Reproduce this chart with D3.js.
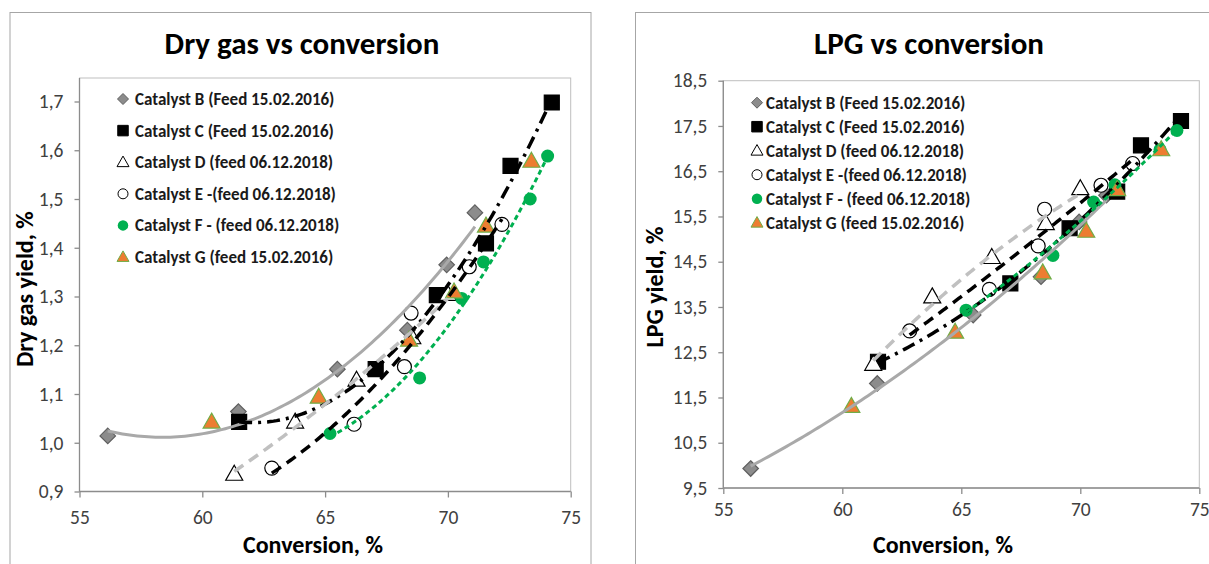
<!DOCTYPE html>
<html>
<head>
<meta charset="utf-8">
<script src="https://cdn.jsdelivr.net/npm/d3@7"></script>
<style>
  body { margin: 0; background: #fff; }
  svg { display: block; }
  text { font-family: Carlito, Lato, "Open Sans", sans-serif; }
</style>
</head>
<body>
<svg id="chart" width="1209" height="564"></svg>
<script>
// Conversion (%) of each test run, per catalyst
const conversionB = [56.15, 61.47, 65.5, 68.35, 69.95, 71.1];
const conversionC = [61.5, 67.06, 69.55, 71.55, 72.55, 74.23];
const conversionD = [61.3, 63.78, 66.28, 68.55, 70.0];
const conversionE = [62.83, 66.18, 68.23, 68.5, 70.87, 72.2];
const conversionF = [65.2, 68.85, 70.56, 71.45, 73.35, 74.06];
const conversionG = [60.38, 64.74, 68.42, 70.25, 71.55, 73.4];

// Dry gas yield (%)
const dryGasB = [1.014, 1.064, 1.151, 1.231, 1.365, 1.472];
const dryGasC = [1.043, 1.151, 1.303, 1.409, 1.568, 1.698];
const dryGasD = [0.936, 1.043, 1.129, 1.216, 1.305];
const dryGasE = [0.948, 1.038, 1.156, 1.266, 1.361, 1.448];
const dryGasF = [1.019, 1.133, 1.296, 1.371, 1.5, 1.588];
const dryGasG = [1.043, 1.094, 1.211, 1.31, 1.445, 1.578];

// LPG yield (%)
const lpgB = [9.93, 11.81, 13.32, 14.17, 15.38, 15.97];
const lpgC = [12.29, 14.02, 15.24, 16.05, 17.07, 17.61];
const lpgD = [12.24, 13.73, 14.6, 15.35, 16.12];
const lpgE = [12.97, 13.89, 14.85, 15.66, 16.19, 16.67];
const lpgF = [13.43, 14.64, 15.82, 16.2, 16.98, 17.4];
const lpgG = [11.31, 12.95, 14.26, 15.18, 16.1, 16.98];

const legendLabels = [
  "Catalyst B (Feed 15.02.2016)",
  "Catalyst C (Feed 15.02.2016)",
  "Catalyst D (feed 06.12.2018)",
  "Catalyst E -(feed 06.12.2018)",
  "Catalyst F - (feed 06.12.2018)",
  "Catalyst G (feed 15.02.2016)"
];

const conversionTicks = [55, 60, 65, 70, 75];
const dryGasTicks = [0.9, 1.0, 1.1, 1.2, 1.3, 1.4, 1.5, 1.6, 1.7];
const lpgTicks = [9.5, 10.5, 11.5, 12.5, 13.5, 14.5, 15.5, 16.5, 17.5, 18.5];

// Marker and trendline styling per catalyst (B..G)
const styles = [
  { shape: "diamond",  fill: "#8c8c8c", stroke: "#5f5f5f", line: "#a9a9a9", dash: null,         width: 3,   trend: true },
  { shape: "square",   fill: "#000000", stroke: "#000000", line: "#000000", dash: "13,6,3,6",   width: 3.5, trend: true },
  { shape: "triangle", fill: "#ffffff", stroke: "#000000", line: "#c0c0c0", dash: "11,7",       width: 3.5, trend: true },
  { shape: "circle",   fill: "#ffffff", stroke: "#000000", line: "#000000", dash: "11,7",       width: 3.5, trend: true },
  { shape: "dot",      fill: "#00b050", stroke: "#00b050", line: "#00b050", dash: "5,3.5",      width: 3,   trend: true },
  { shape: "triangle", fill: "#ed7d31", stroke: "#70ad47", line: null,      dash: null,         width: 0,   trend: false }
];

const comma = d => d.toFixed(1).replace(".", ",");

// Least-squares second-order polynomial, as used for the trendlines
function quadFit(xs, ys) {
  const n = xs.length, m = d3.mean(xs);
  let s1 = 0, s2 = 0, s3 = 0, s4 = 0, t0 = 0, t1 = 0, t2 = 0;
  xs.forEach((x0, i) => {
    const x = x0 - m, y = ys[i];
    s1 += x; s2 += x * x; s3 += x * x * x; s4 += x * x * x * x;
    t0 += y; t1 += x * y; t2 += x * x * y;
  });
  const A = [[n, s1, s2], [s1, s2, s3], [s2, s3, s4]], B = [t0, t1, t2];
  const det = M => M[0][0]*(M[1][1]*M[2][2]-M[1][2]*M[2][1]) - M[0][1]*(M[1][0]*M[2][2]-M[1][2]*M[2][0]) + M[0][2]*(M[1][0]*M[2][1]-M[1][1]*M[2][0]);
  const D = det(A);
  const coef = [0, 1, 2].map(k => det(A.map((row, r) => row.map((v, c) => c === k ? B[r] : v))) / D);
  return x => coef[0] + coef[1] * (x - m) + coef[2] * (x - m) * (x - m);
}

function markerPath(shape, size) {
  const s = size;
  if (shape === "square") return `M${-s/2},${-s/2}H${s/2}V${s/2}H${-s/2}Z`;
  if (shape === "diamond") return `M0,${-s/2}L${s/2},0L0,${s/2}L${-s/2},0Z`;
  if (shape === "triangle") { const h = s * 0.88; return `M0,${-h*0.58}L${s/2},${h*0.42}L${-s/2},${h*0.42}Z`; }
  return d3.symbol(d3.symbolCircle, Math.PI * s * s / 4)();
}
const markerSize = { square: 15, diamond: 15.5, triangle: 17, circle: 14, dot: 13 };
const legendSize = { square: 10.5, diamond: 11, triangle: 12, circle: 10, dot: 10.5 };

const svg = d3.select("#chart");

function drawChart(cfg) {
  const g = svg.append("g");
  // chart area border
  g.append("rect").attr("x", cfg.outer[0]).attr("y", cfg.outer[1])
    .attr("width", cfg.outer[2]).attr("height", cfg.outer[3])
    .attr("fill", "#fff").attr("stroke", "#a6a6a6").attr("stroke-width", 1);

  const x = d3.scaleLinear().domain([55, 75]).range([cfg.left, cfg.right]);
  const y = d3.scaleLinear().domain(cfg.yDomain).range([cfg.bottom, cfg.yTop]);

  // plot area frame
  g.append("rect").attr("x", cfg.left).attr("y", cfg.top)
    .attr("width", cfg.right - cfg.left).attr("height", cfg.bottom - cfg.top)
    .attr("fill", "none").attr("stroke", "#bfbfbf").attr("stroke-width", 1);

  const xAxis = g.append("g").attr("transform", `translate(0,${cfg.bottom})`)
    .call(d3.axisBottom(x).tickValues(conversionTicks).tickSize(6).tickPadding(cfg.xPad).tickFormat(d3.format("d")));
  const yAxis = g.append("g").attr("transform", `translate(${cfg.left},0)`)
    .call(d3.axisLeft(y).tickValues(cfg.yTicks).tickSize(5).tickPadding(cfg.yPad).tickFormat(comma));
  [xAxis, yAxis].forEach(a => {
    a.select(".domain").attr("stroke", "#8c8c8c").attr("stroke-width", 1.3);
    a.selectAll(".tick line").attr("stroke", "#8c8c8c").attr("stroke-width", 1.3);
    a.selectAll(".tick text").attr("fill", "#404040").style("font-size", "19.5px")
      .style("font-family", "Carlito, Lato, 'Open Sans', sans-serif");
  });
  yAxis.select(".domain").attr("d", `M0,${cfg.bottom}V${cfg.top}`);
  xAxis.select(".domain").attr("d", `M${cfg.left},0H${cfg.right}`);

  // title and axis titles
  g.append("text").attr("x", cfg.titleX).attr("y", 54).attr("text-anchor", "middle")
    .style("font-size", "31px").style("font-weight", "bold").attr("fill", "#000").text(cfg.title);
  g.append("text").attr("x", cfg.xTitleX).attr("y", 553).attr("text-anchor", "middle")
    .style("font-size", "24px").style("font-weight", "bold").attr("fill", "#000").text("Conversion, %");
  g.append("text").attr("transform", `translate(${cfg.yTitleX},${cfg.yTitleY}) rotate(-90)`)
    .attr("text-anchor", "middle").style("font-size", "24px").style("font-weight", "bold")
    .attr("fill", "#000").text(cfg.yTitle);

  // markers
  cfg.series.forEach((s, i) => {
    const st = styles[i];
    g.append("g").selectAll("path").data(s.x.map((v, j) => [v, s.y[j]])).join("path")
      .attr("transform", d => `translate(${x(d[0])},${y(d[1])})`)
      .attr("d", markerPath(st.shape, markerSize[st.shape]))
      .attr("fill", st.fill).attr("stroke", st.stroke)
      .attr("stroke-width", st.shape === "dot" ? 0 : 1.2);
  });

  // trendlines
  cfg.series.forEach((s, i) => {
    const st = styles[i];
    if (!st.trend) return;
    const f = quadFit(s.x, s.y);
    const [x0, x1] = d3.extent(s.x);
    const pts = d3.range(0, 101).map(k => x0 + (x1 - x0) * k / 100);
    g.append("path").datum(pts)
      .attr("d", d3.line().x(v => x(v)).y(v => y(f(v))))
      .attr("fill", "none").attr("stroke", st.line).attr("stroke-width", st.width)
      .attr("stroke-dasharray", st.dash);
  });

  // legend
  legendLabels.forEach((lab, i) => {
    const st = styles[i];
    const ly = cfg.legendY + i * cfg.legendStep;
    g.append("path").attr("transform", `translate(${cfg.legendX},${ly})`)
      .attr("d", markerPath(st.shape, legendSize[st.shape]))
      .attr("fill", st.fill).attr("stroke", st.stroke).attr("stroke-width", st.shape === "dot" ? 0 : 1);
    g.append("text").attr("x", cfg.legendX + cfg.legendGap).attr("y", ly).attr("dy", "0.35em")
      .style("font-size", "17px").style("font-weight", "bold").attr("fill", "#1a1a1a").text(lab);
  });
}

drawChart({
  outer: [10, 12.5, 581, 570],
  left: 79.5, right: 570.7, top: 78, bottom: 491.5, yTop: 101.5,
  yDomain: [0.9, 1.7], yTicks: dryGasTicks, xPad: 13, yPad: 11,
  title: "Dry gas vs conversion", titleX: 302,
  yTitle: "Dry gas yield, %", yTitleX: 33, yTitleY: 289,
  xTitleX: 313,
  legendX: 123, legendGap: 12, legendY: 99, legendStep: 31.6,
  series: [
    { x: conversionB, y: dryGasB }, { x: conversionC, y: dryGasC }, { x: conversionD, y: dryGasD },
    { x: conversionE, y: dryGasE }, { x: conversionF, y: dryGasF }, { x: conversionG, y: dryGasG }
  ]
});

drawChart({
  outer: [635.5, 12.5, 600, 570],
  left: 723.3, right: 1199.3, top: 80.7, bottom: 488, yTop: 80.7,
  yDomain: [9.5, 18.5], yTicks: lpgTicks, xPad: 8, yPad: 11,
  title: "LPG vs conversion", titleX: 929,
  yTitle: "LPG yield, %", yTitleX: 663, yTitleY: 287,
  xTitleX: 943,
  legendX: 757, legendGap: 9, legendY: 102.7, legendStep: 24,
  series: [
    { x: conversionB, y: lpgB }, { x: conversionC, y: lpgC }, { x: conversionD, y: lpgD },
    { x: conversionE, y: lpgE }, { x: conversionF, y: lpgF }, { x: conversionG, y: lpgG }
  ]
});
</script>
</body>
</html>
